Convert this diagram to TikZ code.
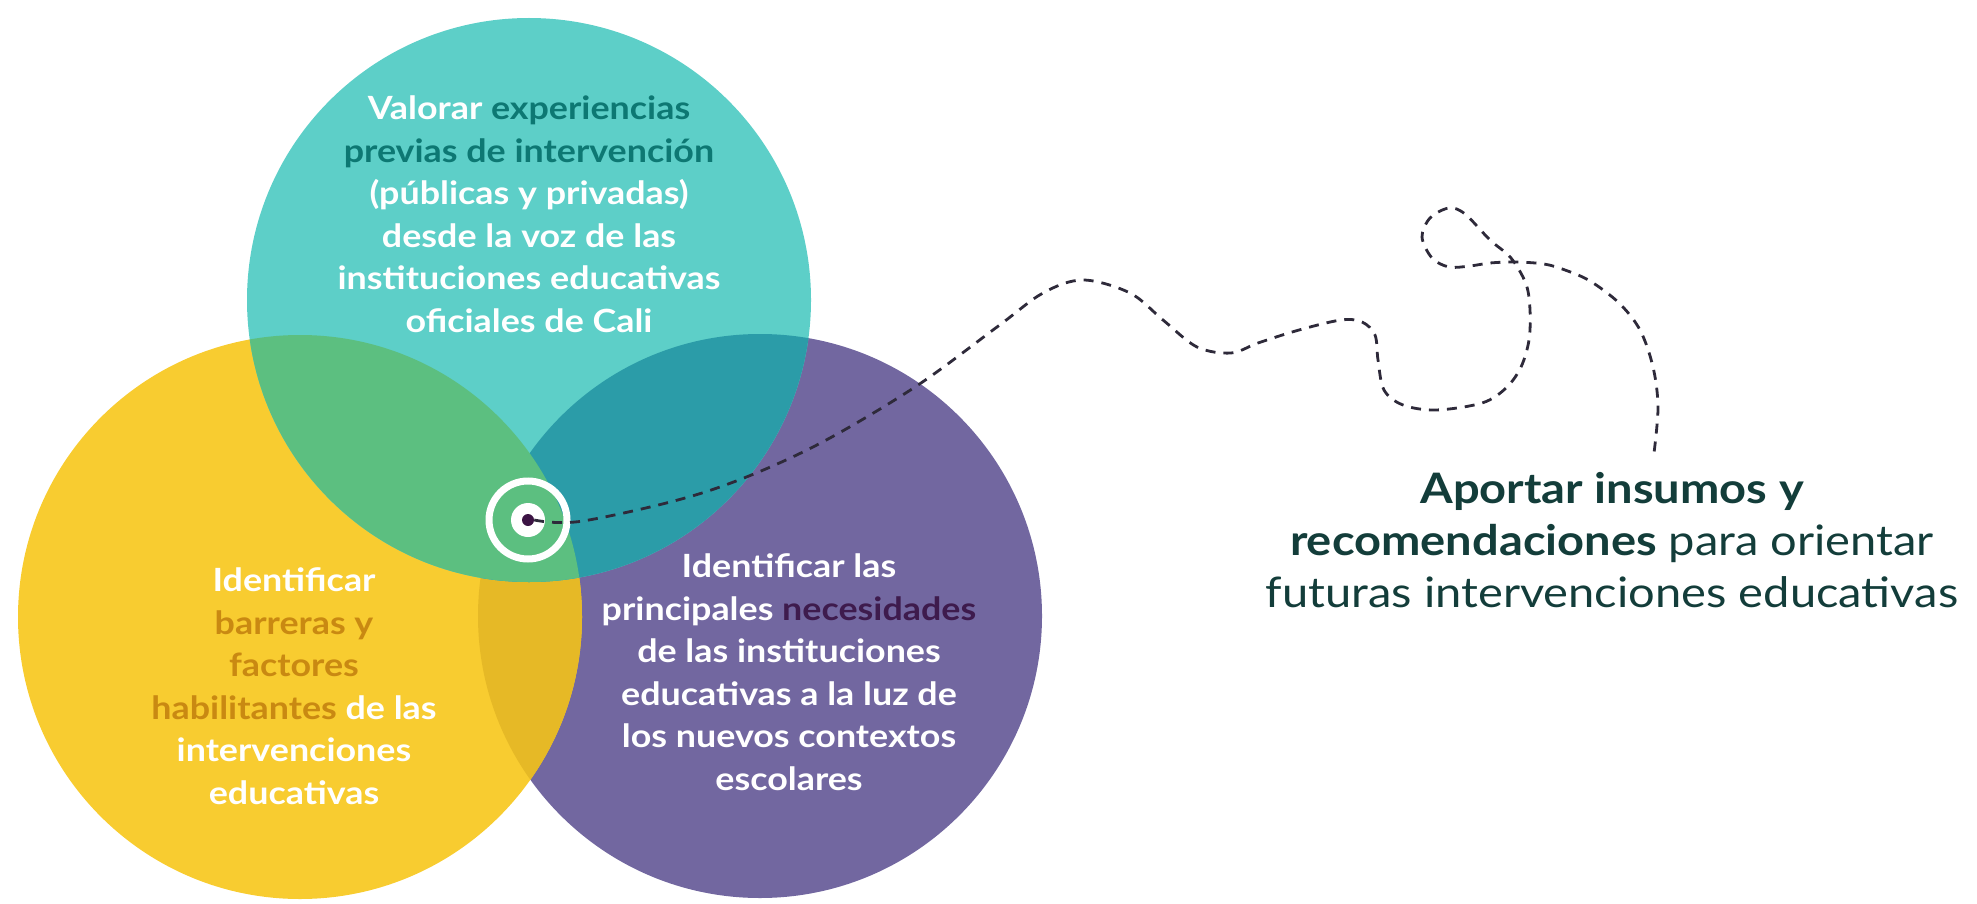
\documentclass[tikz,border=0pt]{standalone}
\usepackage{fontspec}
\setmainfont{Lato}[FakeStretch=1.12]
\definecolor{cteal}{HTML}{5DCFC8}
\definecolor{cgreen}{HTML}{5CBF80}
\definecolor{cdteal}{HTML}{2B9CA8}
\definecolor{cyellow}{HTML}{F8CC30}
\definecolor{cdyellow}{HTML}{E6B926}
\definecolor{cpurple}{HTML}{7267A0}
\definecolor{ttealdark}{HTML}{0D7873}
\definecolor{torange}{HTML}{C98912}
\definecolor{tpurple}{HTML}{3E1B4D}
\definecolor{tright}{HTML}{133D3A}
\definecolor{cdash}{HTML}{2E2A3A}
\definecolor{cdot}{HTML}{3C1444}
\begin{document}
\begin{tikzpicture}[x=1pt,y=-1pt,
  blob/.style={circle, inner sep=0pt, minimum size=564pt},
  circtext/.style={align=center, text=white, inner sep=0pt, anchor=base,
    font=\bfseries\fontsize{32}{42.5}\selectfont},
  righttext/.style={align=center, text=tright, inner sep=0pt, anchor=base,
    font=\fontsize{42}{52}\selectfont},
  trail/.style={draw=cdash, line width=2.8pt, dash pattern=on 10pt off 8pt}]
\useasboundingbox (0,0) rectangle (1977,904);
% circles
\node[blob, fill=cpurple] (purplec) at (760,616) {};
\node[blob, fill=cyellow] (yellowc) at (300,617) {};
\begin{scope}
  \clip (purplec.center) circle[radius=282pt];
  \fill[cdyellow] (yellowc.center) circle[radius=282pt];
\end{scope}
\node[blob, fill=cteal] (tealc) at (529,300) {};
\begin{scope}
  \clip (tealc.center) circle[radius=282pt];
  \fill[cdteal] (purplec.center) circle[radius=282pt];
  \fill[cgreen] (yellowc.center) circle[radius=282pt];
\end{scope}
% target
\node[circle, draw=white, line width=7pt, minimum size=78pt, inner sep=0pt] (ring) at (528,520) {};
\node[circle, fill=white, minimum size=34pt, inner sep=0pt] (disc) at (ring.center) {};
\node[circle, fill=cdot, minimum size=12pt, inner sep=0pt] (dot) at (ring.center) {};
\coordinate (trailend) at (1654,453);
% dashed trail
\draw[trail] plot[smooth, tension=0.55] coordinates {
  (dot.east) (583,521) (702,493) (807,450) (912,389) (997,327) (1043,293)
  (1083,280) (1130,293) (1163,320) (1197,347) (1231,353) (1258,343) (1299,330)
  (1341,320) (1362,322) (1375,335) (1378,360) (1384,390) (1403,405) (1436,410)
  (1482,403) (1506,388) (1521,367) (1529,340) (1530,310) (1526,284) (1511,258)
  (1490,240) (1465,214) (1449,208) (1430,218) (1422,237) (1432,258) (1449,267)
  (1470,266) (1490,263) (1515,262) (1544,264) (1565,270) (1590,281) (1619,303)
  (1640,330) (1653,367) (1658,407) (trailend)};
% texts
\node[circtext] (ttext) at (529,332) {Valorar \textcolor{ttealdark}{experiencias}\\
  \textcolor{ttealdark}{previas de intervención}\\
  (públicas y privadas)\\
  desde la voz de las\\
  instituciones educativas\\
  oficiales de Cali};
\node[circtext] (ytext) at (294,804) {Identificar\\
  \textcolor{torange}{barreras y}\\
  \textcolor{torange}{factores}\\
  \textcolor{torange}{habilitantes} de las\\
  intervenciones\\
  educativas};
\node[circtext] (ptext) at (789,790) {Identificar las\\
  principales \textcolor{tpurple}{necesidades}\\
  de las instituciones\\
  educativas a la luz de\\
  los nuevos contextos\\
  escolares};
\node[righttext] (rtext) at (1612,607) {\textbf{Aportar insumos y}\\
  \textbf{recomendaciones} para orientar\\
  futuras intervenciones educativas};
\end{tikzpicture}
\end{document}
